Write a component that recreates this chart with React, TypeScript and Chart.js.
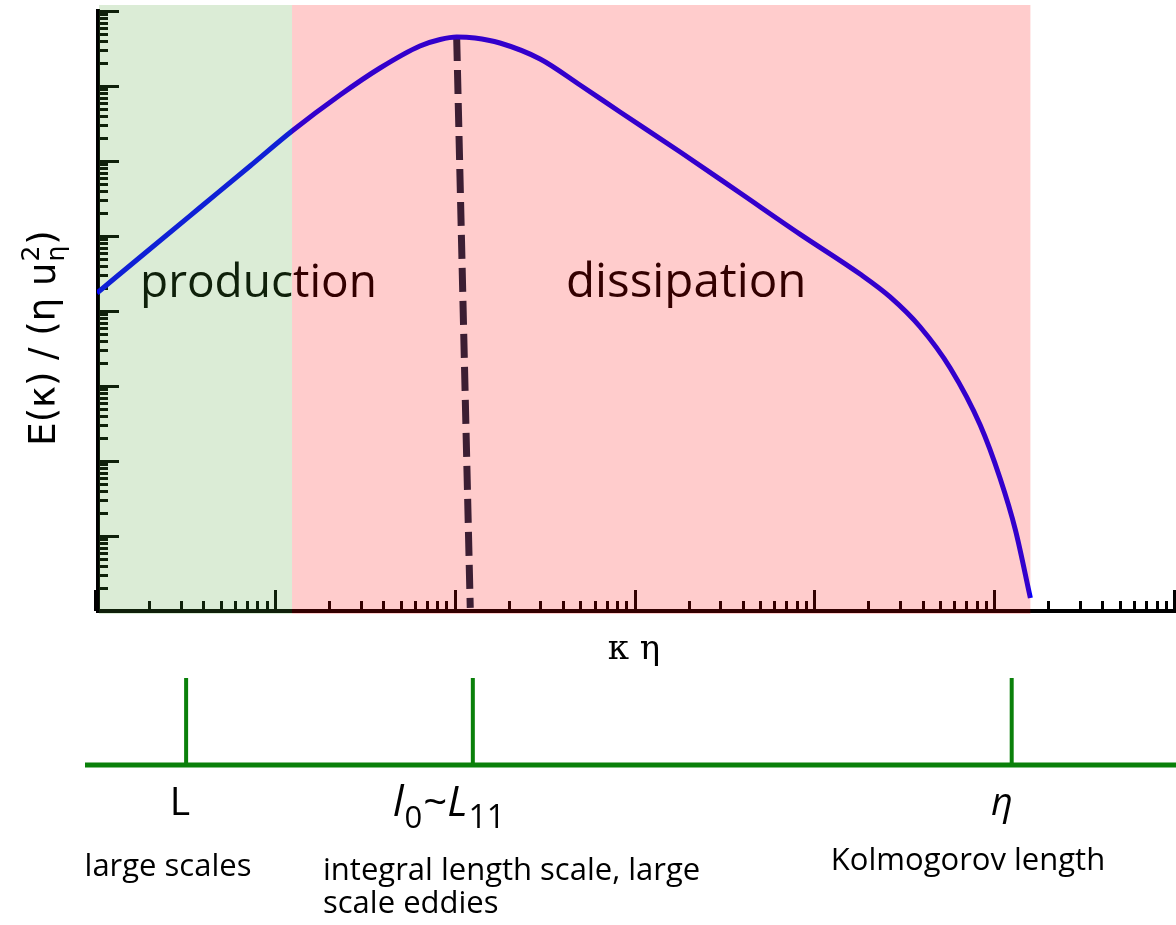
import React, { useEffect, useRef } from "react";
import { Chart, registerables } from "chart.js";

Chart.register(...registerables);

// wavenumber (kappa * eta) and normalised energy spectrum
const kEta = [
  1e-5, 1.97e-5, 3.74e-5, 7.1e-5, 1.215e-4, 2.246e-4, 3.75e-4, 6.25e-4, 8.09e-4,
  1.0e-3, 1.264e-3, 1.74e-3, 2.91e-3, 4.85e-3, 8.1e-3, 1.75e-2, 3.77e-2, 8.1e-2,
  0.175, 0.257, 0.378, 0.555, 0.815, 1.05, 1.28, 1.55,
];
const energy = [
  1.74, 6.71, 24.0, 85.8, 251, 759, 1738, 3415, 4169, 4500, 4365, 3743, 2291,
  1031, 450, 132, 37.4, 10.6, 3.11, 1.54, 0.612, 0.174, 0.0302, 0.00593, 0.0012,
  1.49e-4,
];
// dashed line marking the spectrum peak
const peakLineX = [1.0e-3, 1.19e-3];
const peakLineY = [4500, 1.1e-4];
// shaded ranges
const productionRange = [1e-5, 1.215e-4];
const dissipationRange = [1.215e-4, 1.55];
const regionLabels = ["production", "dissipation"];
// axis ranges (decades)
const xExpRange = [-5, 1];
const yExpRange = [-4, 4];
// length-scale markers below the chart
const scaleMarkX = [3.13e-5, 1.23e-3, 1.22];
const scaleDescriptions = ["large scales", "integral length scale, large", "scale eddies", "Kolmogorov length"];

const SANS = '"Open Sans", "DejaVu Sans", sans-serif';

function logTicks(minExp: number, maxExp: number) {
  const out: { v: number; major: boolean }[] = [];
  for (let e = minExp; e <= maxExp; e++) {
    out.push({ v: Math.pow(10, e), major: true });
    if (e < maxExp) {
      for (let k = 2; k <= 9; k++) out.push({ v: k * Math.pow(10, e), major: false });
    }
  }
  return out;
}

const customPlugin = {
  id: "customDraw",
  beforeDatasetsDraw(chart: any) {
    const { ctx, chartArea: a, scales } = chart;
    const xs = scales.x;
    const ys = scales.y;
    ctx.save();
    ctx.strokeStyle = "#000";
    ctx.fillStyle = "#000";
    // axis lines
    ctx.lineWidth = 4;
    ctx.beginPath();
    ctx.moveTo(a.left + 1, a.top - 2);
    ctx.lineTo(a.left + 1, a.bottom + 2);
    ctx.stroke();
    ctx.beginPath();
    ctx.moveTo(a.left - 1, a.bottom);
    ctx.lineTo(a.right, a.bottom);
    ctx.stroke();
    // ticks
    ctx.lineWidth = 3;
    for (const t of logTicks(yExpRange[0], yExpRange[1])) {
      const py = Math.round(ys.getPixelForValue(t.v)) + 0.5;
      ctx.beginPath();
      ctx.moveTo(a.left, py);
      ctx.lineTo(a.left + (t.major ? 22 : 11), py);
      ctx.stroke();
    }
    for (const t of logTicks(xExpRange[0], xExpRange[1])) {
      const px = Math.round(xs.getPixelForValue(t.v)) - 1.5;
      ctx.beginPath();
      ctx.moveTo(px, a.bottom);
      ctx.lineTo(px, a.bottom - (t.major ? 21 : 10));
      ctx.stroke();
    }
    // region labels
    ctx.textBaseline = "alphabetic";
    ctx.textAlign = "left";
    ctx.font = `46px ${SANS}`;
    ctx.fillText(regionLabels[0], 140, 297);
    ctx.font = `47.5px ${SANS}`;
    ctx.fillText(regionLabels[1], 566, 297);
    ctx.restore();
  },
  afterDatasetsDraw(chart: any) {
    const { ctx, chartArea: a, scales } = chart;
    const xs = scales.x;
    const top = a.top - 6;
    const bottom = a.bottom + 3;
    ctx.save();
    const g0 = a.left + 2;
    const g1 = xs.getPixelForValue(productionRange[1]);
    ctx.fillStyle = "rgba(75,160,50,0.2)";
    ctx.fillRect(g0, top, g1 - g0, bottom - top);
    const r0 = xs.getPixelForValue(dissipationRange[0]);
    const r1 = xs.getPixelForValue(dissipationRange[1]);
    ctx.fillStyle = "rgba(255,0,0,0.2)";
    ctx.fillRect(r0, top, r1 - r0, bottom - top);
    ctx.restore();
  },
  afterDraw(chart: any) {
    const { ctx, scales } = chart;
    const xs = scales.x;
    ctx.save();
    ctx.fillStyle = "#000";
    // x-axis title
    ctx.font = '34px "DejaVu Serif", serif';
    ctx.textAlign = "center";
    ctx.textBaseline = "alphabetic";
    ctx.fillText("κ η", 634, 659);

    // y-axis title (rotated)
    const big = '37px "DejaVu Sans", sans-serif';
    const small = '25px "DejaVu Sans", sans-serif';
    ctx.font = big;
    const main = "E(κ) / (η u";
    const w1 = ctx.measureText(main).width;
    const w3 = ctx.measureText(")").width;
    ctx.font = small;
    const w2 = Math.max(ctx.measureText("2").width, ctx.measureText("η").width) + 2;
    const total = w1 + w2 + w3;
    ctx.translate(55, 338);
    ctx.rotate(-Math.PI / 2);
    ctx.textAlign = "left";
    let cx = -total / 2;
    ctx.font = big;
    ctx.fillText(main, cx, 0);
    cx += w1;
    ctx.font = small;
    ctx.fillText("2", cx + 1, -16);
    ctx.fillText("η", cx + 1, 9);
    cx += w2;
    ctx.font = big;
    ctx.fillText(")", cx, 0);
    ctx.setTransform(1, 0, 0, 1, 0, 0);

    // length-scale panel
    ctx.strokeStyle = "#0a800a";
    ctx.lineWidth = 5;
    ctx.beginPath();
    ctx.moveTo(85, 765);
    ctx.lineTo(1176, 765);
    ctx.stroke();
    ctx.lineWidth = 4;
    for (const v of scaleMarkX) {
      const px = xs.getPixelForValue(v);
      ctx.beginPath();
      ctx.moveTo(px, 678);
      ctx.lineTo(px, 765);
      ctx.stroke();
    }

    ctx.fillStyle = "#000";
    ctx.textBaseline = "alphabetic";
    // L
    ctx.font = `39px ${SANS}`;
    ctx.textAlign = "center";
    ctx.fillText("L", 180, 815);
    // l0 ~ L11
    ctx.textAlign = "left";
    let lx = 393;
    ctx.font = `italic 42px ${SANS}`;
    ctx.fillText("l", lx, 816);
    lx += ctx.measureText("l").width + 1;
    ctx.font = `31px ${SANS}`;
    ctx.fillText("0", lx, 828);
    lx += ctx.measureText("0").width + 1;
    ctx.font = `42px ${SANS}`;
    ctx.fillText("~", lx, 816);
    lx += ctx.measureText("~").width;
    ctx.font = `italic 42px ${SANS}`;
    ctx.fillText("L", lx, 816);
    lx += ctx.measureText("L").width + 1;
    ctx.font = `32px ${SANS}`;
    ctx.fillText("11", lx, 828);
    // eta
    ctx.font = `italic 38px ${SANS}`;
    ctx.textAlign = "center";
    ctx.fillText("η", 1002, 815);

    // descriptions
    ctx.font = `31px ${SANS}`;
    ctx.textAlign = "center";
    ctx.fillText(scaleDescriptions[0], 168, 876);
    ctx.fillText(scaleDescriptions[3], 968, 870);
    ctx.textAlign = "left";
    ctx.fillText(scaleDescriptions[1], 323, 880);
    ctx.fillText(scaleDescriptions[2], 323, 913);
    ctx.restore();
  },
};

export default function App() {
  const ref = useRef<HTMLCanvasElement>(null);
  useEffect(() => {
    const chart = new Chart(ref.current as HTMLCanvasElement, {
      type: "line",
      data: {
        datasets: [
          {
            data: kEta.map((x, i) => ({ x, y: energy[i] })),
            borderColor: "#0000ff",
            borderWidth: 5,
            pointRadius: 0,
            cubicInterpolationMode: "monotone",
            fill: false,
          },
          {
            data: peakLineX.map((x, i) => ({ x, y: peakLineY[i] })),
            borderColor: "rgb(12,38,64)",
            borderWidth: 7,
            borderDash: [24, 9],
            borderCapStyle: "butt",
            pointRadius: 0,
            tension: 0,
            fill: false,
          },
        ],
      },
      options: {
        animation: false,
        responsive: false,
        devicePixelRatio: 1,
        layout: { padding: { left: 97, right: 0, top: 11, bottom: 314 } },
        scales: {
          x: {
            type: "logarithmic",
            min: Math.pow(10, xExpRange[0]),
            max: Math.pow(10, xExpRange[1]),
            display: false,
          },
          y: {
            type: "logarithmic",
            min: Math.pow(10, yExpRange[0]),
            max: Math.pow(10, yExpRange[1]),
            display: false,
          },
        },
        plugins: {
          legend: { display: false },
          tooltip: { enabled: false },
        },
      } as any,
      plugins: [customPlugin],
    });
    return () => chart.destroy();
  }, []);
  return (
    <canvas
      ref={ref}
      width={1176}
      height={925}
      style={{ position: "absolute", left: 0, top: 0, width: 1176, height: 925, display: "block" }}
    />
  );
}
